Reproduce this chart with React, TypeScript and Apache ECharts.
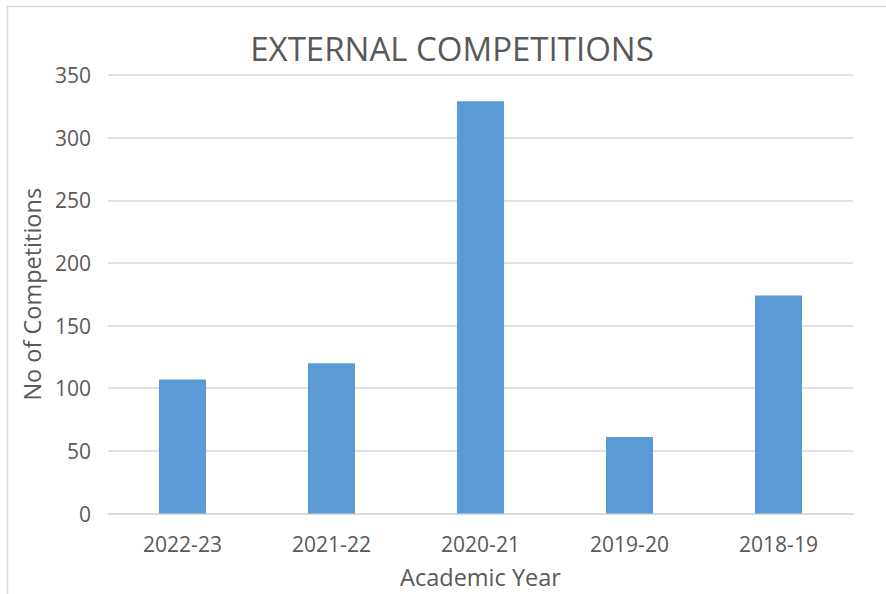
import React, { useEffect, useRef } from "react";
import * as echarts from "echarts";

const categories = ["2022-23", "2021-22", "2020-21", "2019-20", "2018-19"];
const competitions = [107, 120, 329, 61, 174];
const yMin = 0;
const yMax = 350;
const yStep = 50;

const TEXT = "#595959";
const FONT = "'Open Sans', 'Noto Sans', sans-serif";

export default function App() {
  const ref = useRef<HTMLDivElement>(null);
  useEffect(() => {
    if (!ref.current) return;
    const chart = echarts.init(ref.current, undefined, { renderer: "svg" });
    chart.setOption({
      animation: false,
      backgroundColor: "#ffffff",
      textStyle: { fontFamily: FONT, color: TEXT },
      title: {
        text: "EXTERNAL COMPETITIONS",
        left: 447,
        textAlign: "center",
        top: 27,
        textStyle: { fontFamily: FONT, fontSize: 33, fontWeight: "normal", color: TEXT },
      },
      graphic: [
        {
          type: "rect",
          shape: { x: 7.5, y: 6.5, width: 1000, height: 1000 },
          style: { fill: "none", stroke: "#D9D9D9", lineWidth: 1.5 },
          silent: true,
        },
      ],
      grid: { left: 108, width: 745, top: 75, height: 438.5, containLabel: false },
      xAxis: {
        type: "category",
        data: categories,
        name: "Academic Year",
        nameLocation: "middle",
        nameGap: 51,
        nameTextStyle: { fontFamily: FONT, fontSize: 23.5, color: TEXT },
        axisLine: { show: true, lineStyle: { color: "#D9D9D9", width: 1.5 } },
        axisTick: { show: false },
        axisLabel: { fontFamily: FONT, fontSize: 21, color: TEXT, margin: 20 },
      },
      yAxis: {
        type: "value",
        min: yMin,
        max: yMax,
        interval: yStep,
        name: "No of Competitions",
        nameLocation: "middle",
        nameGap: 64,
        nameRotate: 90,
        nameTextStyle: { fontFamily: FONT, fontSize: 23.5, color: TEXT },
        axisLine: { show: false },
        axisTick: { show: false },
        axisLabel: { fontFamily: FONT, fontSize: 21, color: TEXT, margin: 17 },
        splitLine: { show: true, lineStyle: { color: "#D9D9D9", width: 1.5 } },
      },
      series: [
        {
          type: "bar",
          data: competitions,
          barWidth: "31.6%",
          itemStyle: { color: "#5B9BD5" },
        },
      ],
    });
    return () => chart.dispose();
  }, []);
  return (
    <div
      ref={ref}
      style={{ position: "fixed", left: 0, top: 0, width: 886, height: 594, background: "#fff" }}
    />
  );
}
